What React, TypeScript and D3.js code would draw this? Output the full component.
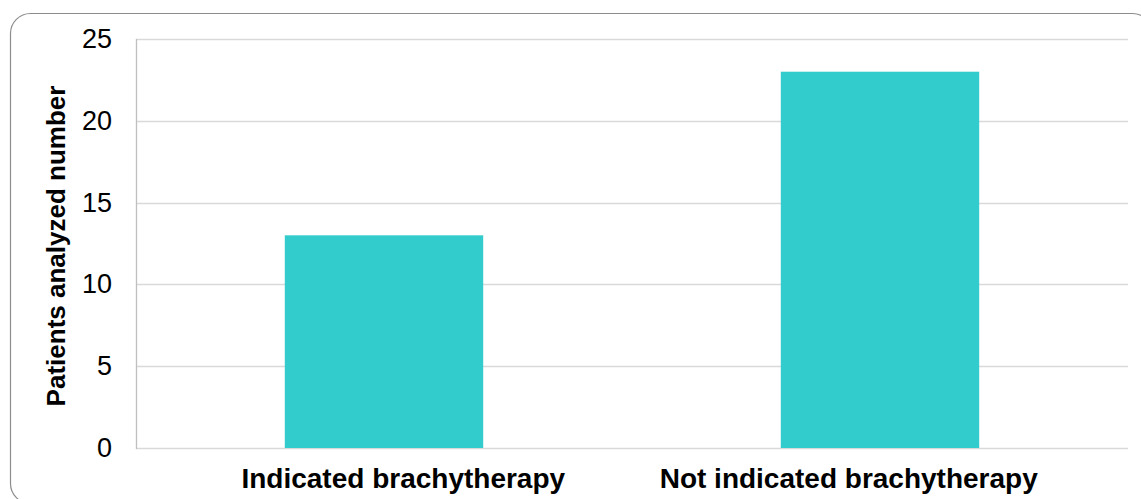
import React from "react";
import * as d3 from "d3";

const categories: string[] = ["Indicated brachytherapy", "Not indicated brachytherapy"];
const values: number[] = [13, 23];
const yTicks: number[] = [0, 5, 10, 15, 20, 25];
const yLabel = "Patients analyzed number";

const W = 1141;
const H = 499;
const plot = { left: 136, right: 1128, top: 39, bottom: 448 };

export default function App() {
  const x = d3
    .scaleBand<string>()
    .domain(categories)
    .range([plot.left, plot.right])
    .paddingInner(0.6)
    .paddingOuter(0.3);
  const xLabel = d3.scalePoint<string>().domain(categories).range([plot.left, plot.right - 12]).padding(0.6);
  const y = d3.scaleLinear().domain([0, 25]).range([plot.bottom, plot.top]);
  const font = "'Liberation Sans', Arial, sans-serif";

  return (
    <svg
      width={W}
      height={H}
      style={{ position: "absolute", left: 0, top: 0, background: "#fff" }}
      fontFamily={font}
    >
      <rect x={10.5} y={13.5} width={1142} height={490} rx={20} ry={20} fill="#fff" stroke="#8c8c8c" strokeWidth={1.2} />
      {yTicks.map((t) => (
        <line key={"g" + t} x1={plot.left} x2={plot.right} y1={Math.round(y(t)) + 0.5} y2={Math.round(y(t)) + 0.5} stroke="#d9d9d9" strokeWidth={1.3} />
      ))}
      <line x1={plot.left + 0.5} x2={plot.left + 0.5} y1={plot.top} y2={plot.bottom + 1} stroke="#bfbfbf" strokeWidth={1.3} />
      {categories.map((c, i) => (
        <rect key={c} x={x(c)} y={y(values[i])} width={x.bandwidth()} height={y(0) - y(values[i])} fill="#33CCCC" />
      ))}
      {yTicks.map((t) => (
        <text key={"t" + t} x={112} y={y(t)} textAnchor="end" dominantBaseline="central" fontSize={27} fill="#000">
          {t}
        </text>
      ))}
      {categories.map((c) => (
        <text key={"l" + c} x={xLabel(c)} y={488} textAnchor="middle" fontSize={28} fontWeight="bold" fill="#000">
          {c}
        </text>
      ))}
      <text transform={`translate(65, 246) rotate(-90)`} textAnchor="middle" fontSize={26} fontWeight="bold" fill="#000">
        {yLabel}
      </text>
    </svg>
  );
}
